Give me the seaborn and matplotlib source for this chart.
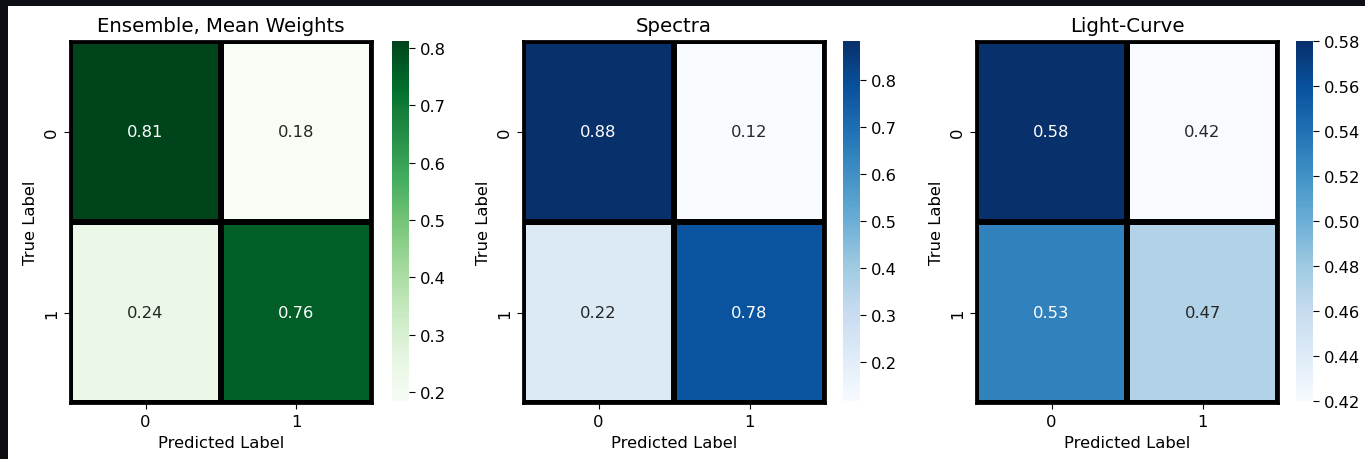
import numpy as np
import pandas as pd
import matplotlib
matplotlib.use("Agg")
import matplotlib.pyplot as plt
import seaborn as sns
from matplotlib.patches import Rectangle

# ---- data ----
classes = ["0", "1"]
titles = ["Ensemble, Mean Weights", "Spectra", "Light-Curve"]
cmaps = ["Greens", "Blues", "Blues"]
ensemble_vals = [[0.812, 0.184], [0.238, 0.762]]
spectra_vals = [[0.882, 0.118], [0.222, 0.778]]
lightcurve_vals = [[0.58, 0.42], [0.53, 0.47]]
all_vals = [ensemble_vals, spectra_vals, lightcurve_vals]

W, H = 1365, 460
fig = plt.figure(figsize=(W / 100, H / 100), dpi=100)
fig.patch.set_facecolor("white")
dark = "#0c0e14"
fig.add_artist(Rectangle((0, 0), 8 / W, 1, transform=fig.transFigure,
                         facecolor=dark, edgecolor="none"))
fig.add_artist(Rectangle((0, (H - 7) / H), 1, 7 / H, transform=fig.transFigure,
                         facecolor=dark, edgecolor="none"))

hm_lefts = [70, 523, 976]
cb_lefts = [392, 843, 1296]
hm_w = 302
top, bottom = 42, 404
cb_w = 17
fs = 11.8

def fx(x):
    return x / W

def fy(y):
    return 1 - y / H

for i in range(3):
    ax = fig.add_axes([fx(hm_lefts[i]), fy(bottom), hm_w / W, (bottom - top) / H])
    cax = fig.add_axes([fx(cb_lefts[i]), fy(bottom - 2), cb_w / W, (bottom - 2 - top) / H])
    df = pd.DataFrame(all_vals[i], index=classes, columns=classes)
    sns.heatmap(df, annot=True, fmt=".2f", cmap=cmaps[i], ax=ax, cbar_ax=cax,
                linewidths=4.2, linecolor="black", annot_kws={"fontsize": fs})
    for s in ax.spines.values():
        s.set_visible(True)
        s.set_linewidth(2.0)
        s.set_color("black")
    ax.set_title(titles[i], fontsize=14.2, pad=7)
    ax.set_xlabel("Predicted Label", fontsize=fs)
    ax.set_ylabel("True Label", fontsize=fs)
    ax.tick_params(labelsize=fs, length=4.5)
    plt.setp(ax.get_yticklabels(), rotation=90, va="center")
    plt.setp(ax.get_xticklabels(), rotation=0)
    cax.tick_params(labelsize=fs, length=4.5)
    cb = ax.collections[0].colorbar
    if cb is not None:
        cb.outline.set_visible(False)

fig.savefig("out.png", dpi=100)
